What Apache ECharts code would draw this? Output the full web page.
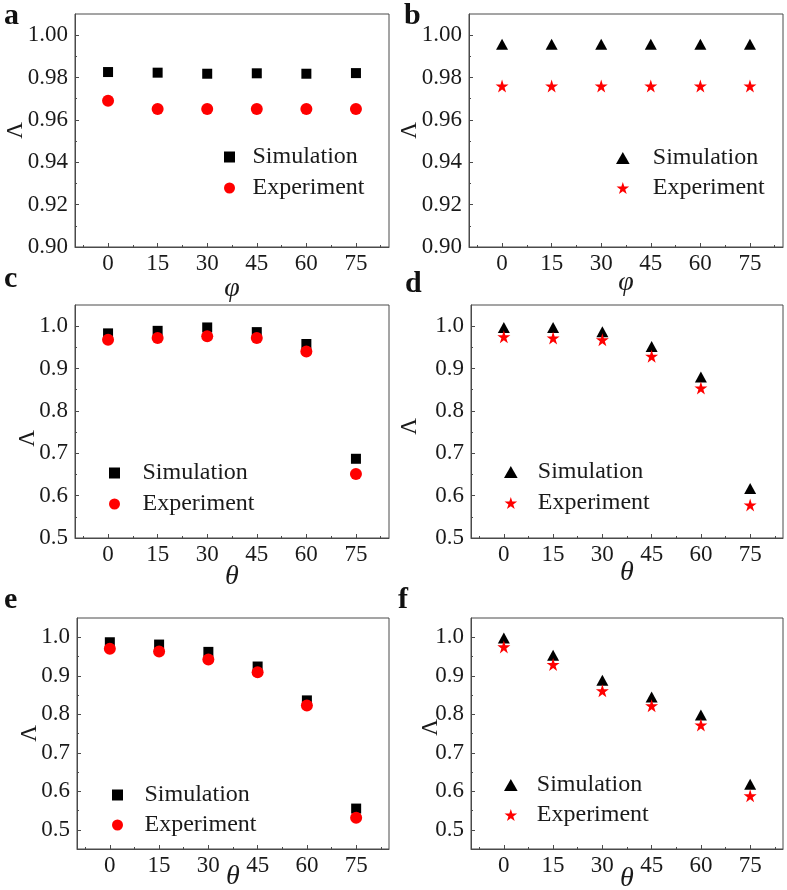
<!DOCTYPE html>
<html>
<head>
<meta charset="utf-8">
<script src="https://cdn.jsdelivr.net/npm/echarts@6/dist/echarts.min.js"></script>
<style>
html,body{margin:0;padding:0;background:#fff;}
#chart{width:787px;height:890px;}
</style>
</head>
<body>
<div id="chart"></div>
<script>
// ---- data ----
const angles = [0, 15, 30, 45, 60, 75];
const xTickLabels = [0, 15, 30, 45, 60, 75];
const xMinorTicks = [-7.5, 7.5, 22.5, 37.5, 52.5, 67.5, 82.5];
const yTicksPhi = [0.90, 0.92, 0.94, 0.96, 0.98, 1.00];
const yMinorPhi = [0.91, 0.93, 0.95, 0.97, 0.99];
const yTicksTheta = [0.5, 0.6, 0.7, 0.8, 0.9, 1.0];
const yMinorTheta = [0.45, 0.55, 0.65, 0.75, 0.85, 0.95];

const aSim = [0.9826, 0.9823, 0.9818, 0.9820, 0.9818, 0.9821];
const aExp = [0.9691, 0.9652, 0.9652, 0.9652, 0.9652, 0.9652];
const bSim = [0.9957, 0.9957, 0.9957, 0.9957, 0.9957, 0.9957];
const bExp = [0.9760, 0.9760, 0.9760, 0.9760, 0.9760, 0.9760];
const cSim = [0.983, 0.989, 0.997, 0.986, 0.958, 0.687];
const cExp = [0.968, 0.972, 0.976, 0.972, 0.940, 0.651];
const dSim = [0.997, 0.997, 0.987, 0.952, 0.880, 0.617];
const dExp = [0.975, 0.972, 0.968, 0.929, 0.854, 0.578];
const eSim = [0.987, 0.981, 0.962, 0.924, 0.836, 0.555];
const eExp = [0.970, 0.963, 0.942, 0.909, 0.823, 0.531];
const fSim = [0.998, 0.953, 0.888, 0.845, 0.798, 0.618];
const fExp = [0.975, 0.929, 0.861, 0.822, 0.772, 0.588];

const panelLetters = ['a', 'b', 'c', 'd', 'e', 'f'];
const xNames = ['\u03c6', '\u03c6', '\u03b8', '\u03b8', '\u03b8', '\u03b8'];
const yName = '\u039b';
const seriesNames = ['Simulation', 'Experiment'];

// ---- styling / layout ----
const FONT = "'Liberation Serif', 'Times New Roman', serif";
const AXIS_COLOR = '#4a4a4a';
const TEXT_COLOR = '#1a1a1a';
const SQUARE = 'path://M0,0L10,0L10,10L0,10Z';
const TRIANGLE = 'path://M50,0L100,88L0,88Z';
const STAR = 'path://M50,0L61.17,34.63L97.55,34.55L68.07,55.87L79.39,90.45L50,69L20.61,90.45L31.93,55.87L2.45,34.55L38.83,34.63Z';

const panels = [
  {sim: aSim, exp: aExp, kind: 'sq', yMin: 0.90, yMax: 1.01, yT: yTicksPhi, yM: yMinorPhi, dec: 2,
   grid: {left: 75, top: 14, width: 314, height: 233}, yGap: 48, yPad: [0, 0, 0, 0], xGap: 28,
   legend: {left: 224, top: 145, itemWidth: 36, itemGap: 7}, letter: [4, 16]},
  {sim: bSim, exp: bExp, kind: 'tri', yMin: 0.90, yMax: 1.01, yT: yTicksPhi, yM: yMinorPhi, dec: 2,
   grid: {left: 469, top: 14, width: 314, height: 233}, yGap: 48, yPad: [0, 0, 0, 0], xGap: 22,
   legend: {left: 616, top: 146, itemWidth: 50, itemGap: 6}, letter: [404, 16]},
  {sim: cSim, exp: cExp, kind: 'sq', yMin: 0.5, yMax: 1.05, yT: yTicksTheta, yM: yMinorTheta.slice(1), dec: 1,
   grid: {left: 75, top: 305, width: 314, height: 233}, yGap: 36, yPad: [0, 34, 0, 0], xGap: 25,
   legend: {left: 109, top: 461, itemWidth: 46, itemGap: 7}, letter: [4, 279]},
  {sim: dSim, exp: dExp, kind: 'tri', yMin: 0.5, yMax: 1.05, yT: yTicksTheta, yM: yMinorTheta.slice(1), dec: 1,
   grid: {left: 471, top: 305, width: 312, height: 233}, yGap: 50, yPad: [0, 10, 0, 0], xGap: 21,
   legend: {left: 504, top: 460, itemWidth: 44, itemGap: 7}, letter: [405, 284]},
  {sim: eSim, exp: eExp, kind: 'sq', yMin: 0.45, yMax: 1.05, yT: yTicksTheta, yM: yMinorTheta, dec: 1,
   grid: {left: 77, top: 618, width: 312, height: 231}, yGap: 36, yPad: [0, 0, 0, 0], xGap: 14,
   legend: {left: 112, top: 783, itemWidth: 44, itemGap: 6}, letter: [4, 600]},
  {sim: fSim, exp: fExp, kind: 'tri', yMin: 0.45, yMax: 1.05, yT: yTicksTheta, yM: yMinorTheta, dec: 1,
   grid: {left: 471, top: 618, width: 312, height: 231}, yGap: 29, yPad: [0, 0, 0, 12], xGap: 16,
   legend: {left: 504, top: 773, itemWidth: 42, itemGap: 6}, letter: [398, 600]}
];

const option = {
  backgroundColor: '#ffffff',
  animation: false,
  grid: [], xAxis: [], yAxis: [], series: [], legend: [], graphic: []
};

panels.forEach((p, i) => {
  option.grid.push(Object.assign({show: true, borderColor: AXIS_COLOR, borderWidth: 1, backgroundColor: 'transparent',
    containLabel: false, outerBoundsMode: 'none'}, p.grid));
  const dec = p.dec;
  // main x axis
  option.xAxis.push({
    type: 'value', gridIndex: i, position: 'bottom', min: -10, max: 85,
    name: xNames[i], nameLocation: 'middle', nameGap: p.xGap, nameMoveOverlap: false,
    nameTextStyle: {fontFamily: FONT, fontStyle: 'italic', fontSize: 28, color: TEXT_COLOR},
    axisLine: {show: true, onZero: false, lineStyle: {color: AXIS_COLOR, width: 1}},
    axisTick: {show: true, inside: true, length: 4, customValues: xTickLabels, lineStyle: {color: AXIS_COLOR}},
    axisLabel: {show: true, customValues: xTickLabels, margin: 5, fontFamily: FONT, fontSize: 23, color: TEXT_COLOR},
    splitLine: {show: false}
  });
  // minor x ticks
  option.xAxis.push({
    type: 'value', gridIndex: i, position: 'bottom', min: -10, max: 85,
    axisLine: {show: false, onZero: false},
    axisTick: {show: true, inside: true, length: 2, customValues: xMinorTicks, lineStyle: {color: AXIS_COLOR}},
    axisLabel: {show: false}, splitLine: {show: false}
  });
  option.yAxis.push({
    type: 'value', gridIndex: i, position: 'left', min: p.yMin, max: p.yMax,
    name: yName, nameLocation: 'middle', nameGap: p.yGap, nameRotate: 90, nameMoveOverlap: false,
    nameTextStyle: {fontFamily: FONT, fontSize: 23, color: TEXT_COLOR, padding: p.yPad},
    axisLine: {show: true, onZero: false, lineStyle: {color: AXIS_COLOR, width: 1}},
    axisTick: {show: true, inside: true, length: 4, customValues: p.yT, lineStyle: {color: AXIS_COLOR}},
    axisLabel: {show: true, customValues: p.yT, margin: 7, fontFamily: FONT, fontSize: 23, color: TEXT_COLOR,
      formatter: v => Number(v).toFixed(dec)},
    splitLine: {show: false}
  });
  option.yAxis.push({
    type: 'value', gridIndex: i, position: 'left', min: p.yMin, max: p.yMax,
    axisLine: {show: false, onZero: false},
    axisTick: {show: true, inside: true, length: 2, customValues: p.yM, lineStyle: {color: AXIS_COLOR}},
    axisLabel: {show: false}, splitLine: {show: false}
  });
  const simSym = p.kind === 'sq' ? SQUARE : TRIANGLE;
  const expSym = p.kind === 'sq' ? 'circle' : STAR;
  const simSize = p.kind === 'sq' ? 10 : [12, 11];
  const expSize = p.kind === 'sq' ? 12 : 13;
  option.series.push({
    type: 'scatter', name: seriesNames[0], xAxisIndex: i * 2, yAxisIndex: i * 2,
    symbol: simSym, symbolSize: simSize, itemStyle: {color: '#000000', opacity: 1},
    data: angles.map((a, k) => [a, p.sim[k]]), z: 3
  });
  option.series.push({
    type: 'scatter', name: seriesNames[1], xAxisIndex: i * 2, yAxisIndex: i * 2,
    symbol: expSym, symbolSize: expSize, itemStyle: {color: '#ff0000', opacity: 1},
    data: angles.map((a, k) => [a, p.exp[k]]), z: 4
  });
  option.legend.push({
    orient: 'vertical', left: p.legend.left, top: p.legend.top, padding: 0,
    itemWidth: p.legend.itemWidth, itemHeight: p.kind === 'sq' ? 11 : 12, itemGap: p.legend.itemGap,
    symbolKeepAspect: true, selectedMode: false,
    textStyle: {fontFamily: FONT, fontSize: 24, lineHeight: 24, color: TEXT_COLOR},
    data: [
      {name: seriesNames[0], icon: p.kind === 'sq' ? 'path://M0,0L9,0L9,9L0,9Z' : TRIANGLE},
      {name: seriesNames[1], icon: p.kind === 'sq' ? 'circle' : STAR}
    ]
  });
  option.graphic.push({
    type: 'text', z: 10,
    style: {x: p.letter[0], y: p.letter[1], text: panelLetters[i], verticalAlign: 'middle', align: 'left',
      font: 'bold 30px ' + FONT, fill: '#111111'}
  });
});

const chart = echarts.init(document.getElementById('chart'), null, {renderer: 'canvas'});
chart.setOption(option);
</script>
</body>
</html>
